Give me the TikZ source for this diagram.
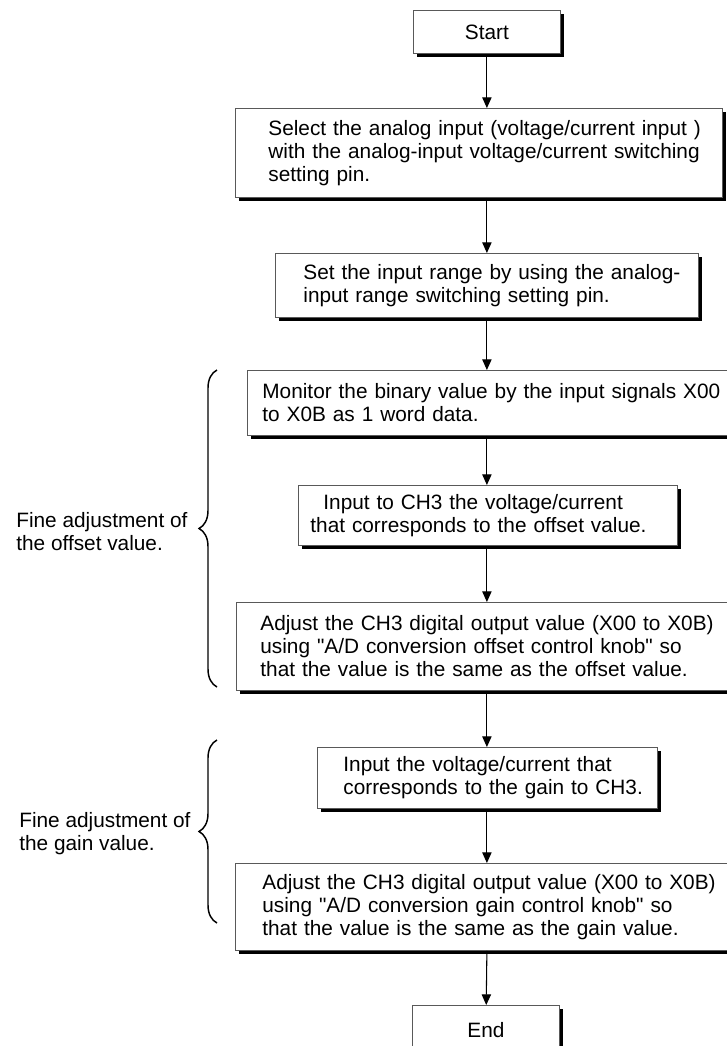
\documentclass[tikz,border=0pt]{standalone}
\usepackage{fontspec}
\setmainfont{Liberation Sans}
\usepackage{tikz}
\usetikzlibrary{arrows.meta,shadows,decorations.pathreplacing}

\begin{document}
\begin{tikzpicture}[
    x=0.75pt, y=-0.75pt, % one unit = one pixel of the sheet
    > = {Triangle[length=8pt,width=7pt]}, % arrow head style
    every node/.style={font=\fontsize{15.6pt}{17.25pt}\selectfont},
    stepbox/.style={draw=black!65, line width=0.6pt, fill=white, anchor=north west,
        align=left, inner ysep=2pt,
        drop shadow={shadow xshift=2.4pt, shadow yshift=-2.4pt, opacity=1, fill=black}},
    termbox/.style={stepbox, align=center, minimum width=110.25pt},
    brace/.style={decorate, decoration={brace, amplitude=13.5pt}, line width=1.1pt},
    note/.style={anchor=east, align=left, inner sep=0pt},
    line width=0.8pt % line style
]
\useasboundingbox (0,0) rectangle (727,1046);

% Nodes
\node[termbox, minimum height=32.25pt] (start) at (413,10) {Start};
\node[stepbox, text width=315.75pt, inner xsep=24.75pt, minimum height=66.75pt] (sel) at (235,108)
    {\mbox{Select the analog input (voltage/current input )}\\
     \mbox{with the analog-input voltage/current switching}\\
     \mbox{setting pin.}};
\node[stepbox, text width=275.25pt, inner xsep=21pt, minimum height=48pt] (rng) at (275,253)
    {\mbox{Set the input range by using the analog-}\\
     \mbox{input range switching setting pin.}};
\node[stepbox, text width=341.25pt, inner xsep=11.25pt, minimum height=48.75pt] (mon) at (247,370)
    {\mbox{Monitor the binary value by the input signals X00}\\
     \mbox{to X0B as 1 word data.}};
\node[stepbox, text width=266.25pt, inner xsep=9pt, minimum height=45pt] (inp) at (298,485)
    {\mbox{\hspace*{9.75pt}Input to CH3 the voltage/current}\\
     \mbox{that corresponds to the offset value.}};
\node[stepbox, text width=335.25pt, inner xsep=18pt, minimum height=66pt] (adj) at (236,602)
    {\mbox{Adjust the CH3 digital output value (X00 to X0B)}\\
     \mbox{using \textquotedbl A/D conversion offset control knob\textquotedbl{} so}\\
     \mbox{that the value is the same as the offset value.}};
\node[stepbox, text width=216pt, inner xsep=19.5pt, minimum height=45.75pt] (gin) at (317,747)
    {\mbox{Input the voltage/current that}\\
     \mbox{corresponds to the gain to CH3.}};
\node[stepbox, text width=330.75pt, inner xsep=20.25pt, minimum height=65.25pt] (gadj) at (235,863)
    {\mbox{Adjust the CH3 digital output value (X00 to X0B)}\\
     \mbox{using \textquotedbl A/D conversion gain control knob\textquotedbl{} so}\\
     \mbox{that the value is the same as the gain value.}};
\node[termbox, minimum height=37.5pt] (end) at (412,1005) {End};

% Braces and their notes
\coordinate (offbot) at (217,687);
\coordinate (offtop) at (217,370);
\coordinate (gainbot) at (217,923);
\coordinate (gaintop) at (217,740);
\draw[brace] (offbot) -- (offtop);
\draw[brace] (gainbot) -- (gaintop);
\node[note] (offnote) at (188,532) {Fine adjustment of\\the offset value.};
\node[note] (gainnote) at (191,834) {Fine adjustment of\\the gain value.};

% Edges
\draw[->] (start) -- (sel.north -| start);
\draw[->] (sel.south -| start) -- (rng.north -| start);
\draw[->] (rng.south -| start) -- (mon.north -| start);
\draw[->] (mon.south -| start) -- (inp.north -| start);
\draw[->] (inp.south -| start) -- (adj.north -| start);
\draw[->] (adj.south -| start) -- (gin.north -| start);
\draw[->] (gin.south -| start) -- (gadj.north -| start);
\draw[->] (gadj.south -| start) -- (end);

\end{tikzpicture}
\end{document}
